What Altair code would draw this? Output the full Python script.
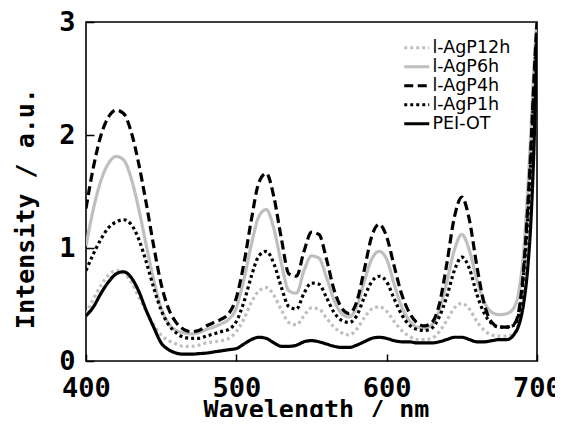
import altair as alt
import pandas as pd

wavelength = [400, 405, 410, 415, 420, 425, 430, 435, 440, 445, 450, 455, 460, 465, 470,
              475, 480, 485, 490, 495, 500, 505, 510, 515, 520, 525, 530, 535, 540, 545,
              550, 555, 560, 565, 570, 575, 580, 585, 590, 595, 600, 605, 610, 615, 620,
              625, 630, 635, 640, 645, 650, 655, 660, 665, 670, 675, 680, 685, 688, 691,
              694, 696, 698, 700]

agp12h = [0.42, 0.55, 0.67, 0.76, 0.80, 0.78, 0.70, 0.57, 0.44, 0.32, 0.23, 0.18, 0.15, 0.13, 0.13,
          0.14, 0.16, 0.17, 0.18, 0.20, 0.26, 0.37, 0.52, 0.62, 0.65, 0.58, 0.45, 0.34, 0.32, 0.40,
          0.47, 0.46, 0.38, 0.30, 0.25, 0.23, 0.28, 0.38, 0.46, 0.48, 0.44, 0.35, 0.27, 0.22, 0.19,
          0.19, 0.20, 0.26, 0.36, 0.47, 0.51, 0.46, 0.35, 0.27, 0.23, 0.22, 0.22, 0.25, 0.35, 0.65,
          1.20, 1.70, 2.30, 2.90]

agp6h = [1.02, 1.35, 1.60, 1.75, 1.81, 1.78, 1.62, 1.35, 1.03, 0.72, 0.47, 0.33, 0.27, 0.25, 0.24,
         0.25, 0.28, 0.30, 0.33, 0.37, 0.47, 0.72, 1.03, 1.28, 1.34, 1.17, 0.86, 0.62, 0.60, 0.80,
         0.93, 0.91, 0.74, 0.54, 0.42, 0.39, 0.48, 0.70, 0.90, 0.97, 0.90, 0.68, 0.48, 0.36, 0.30,
         0.29, 0.32, 0.45, 0.70, 0.98, 1.12, 0.98, 0.72, 0.52, 0.43, 0.41, 0.42, 0.48, 0.62, 0.95,
         1.55, 2.05, 2.60, 3.05]

agp4h = [1.35, 1.72, 2.00, 2.16, 2.22, 2.19, 2.03, 1.75, 1.40, 1.02, 0.68, 0.46, 0.34, 0.28, 0.26,
         0.27, 0.31, 0.34, 0.37, 0.42, 0.56, 0.86, 1.25, 1.58, 1.66, 1.45, 1.08, 0.77, 0.75, 0.97,
         1.14, 1.12, 0.90, 0.63, 0.47, 0.42, 0.52, 0.80, 1.10, 1.21, 1.10, 0.84, 0.59, 0.43, 0.34,
         0.31, 0.34, 0.50, 0.86, 1.27, 1.45, 1.25, 0.84, 0.50, 0.34, 0.30, 0.30, 0.33, 0.45, 0.80,
         1.40, 1.90, 2.50, 3.00]

agp1h = [0.80, 0.95, 1.08, 1.18, 1.23, 1.25, 1.21, 1.08, 0.88, 0.65, 0.45, 0.32, 0.25, 0.21, 0.20,
         0.20, 0.22, 0.24, 0.26, 0.28, 0.35, 0.52, 0.75, 0.93, 0.97, 0.86, 0.65, 0.48, 0.46, 0.60,
         0.69, 0.68, 0.56, 0.43, 0.36, 0.34, 0.40, 0.56, 0.70, 0.75, 0.70, 0.55, 0.41, 0.32, 0.28,
         0.27, 0.29, 0.39, 0.57, 0.80, 0.92, 0.82, 0.59, 0.42, 0.33, 0.30, 0.30, 0.32, 0.42, 0.75,
         1.30, 1.80, 2.40, 2.95]

pei_ot = [0.40, 0.48, 0.60, 0.70, 0.77, 0.79, 0.74, 0.62, 0.45, 0.30, 0.16, 0.10, 0.07, 0.06, 0.06,
          0.065, 0.07, 0.08, 0.09, 0.10, 0.11, 0.15, 0.19, 0.21, 0.20, 0.16, 0.13, 0.13, 0.14, 0.17,
          0.18, 0.17, 0.15, 0.13, 0.12, 0.12, 0.14, 0.17, 0.20, 0.21, 0.20, 0.18, 0.17, 0.17, 0.16,
          0.16, 0.16, 0.17, 0.19, 0.21, 0.21, 0.19, 0.17, 0.17, 0.18, 0.19, 0.19, 0.24, 0.32, 0.50,
          0.85, 1.25, 1.90, 2.90]

series_names = ["l-AgP12h", "l-AgP6h", "l-AgP4h", "l-AgP1h", "PEI-OT"]
series_values = [agp12h, agp6h, agp4h, agp1h, pei_ot]
series_colors = ["#BFBFBF", "#BFBFBF", "#000000", "#000000", "#000000"]
series_dashes = [[3, 3], [1, 0], [9, 4.5], [3, 3], [1, 0]]

rows = []
for name, vals in zip(series_names, series_values):
    for w, v in zip(wavelength, vals):
        rows.append({"wl": w, "I": v, "series": name})
df = pd.DataFrame(rows)

FONT = "DejaVu Sans Mono"

chart = alt.Chart(df).mark_line(
    interpolate="monotone", strokeWidth=3.2, clip=True
).encode(
    x=alt.X("wl:Q",
            scale=alt.Scale(domain=[400, 700], nice=False, zero=False),
            axis=alt.Axis(values=[400, 500, 600, 700], title="Wavelength / nm",
                          offset=-7, tickSize=7, labelPadding=14,
                          titleX=230, titleY=63, titleAlign="center",
                          titleBaseline="alphabetic")),
    y=alt.Y("I:Q",
            scale=alt.Scale(domain=[0, 3], nice=False),
            axis=alt.Axis(values=[0, 1, 2, 3], title="Intensity / a.u.",
                          offset=-8, tickSize=8, labelPadding=11,
                          titleX=-69, titleY=186, titleAlign="center",
                          titleBaseline="middle")),
    color=alt.Color("series:N",
                    scale=alt.Scale(domain=series_names, range=series_colors),
                    sort=series_names, title=None),
    strokeDash=alt.StrokeDash("series:N",
                              scale=alt.Scale(domain=series_names, range=series_dashes),
                              sort=series_names, title=None),
).properties(
    width=451, height=339,
    autosize=alt.AutoSizeParams(type="none"),
    padding={"left": 78, "top": 14, "right": 18, "bottom": 56},
).configure_view(
    stroke="black", strokeWidth=1.6
).configure_axis(
    domain=False, grid=False,
    labelFont=FONT, labelFontWeight="bold", labelFontSize=27, labelColor="black",
    titleFont=FONT, titleFontWeight="bold", titleFontSize=25, titleColor="black",
    tickColor="black", tickWidth=1.5, labelFlush=False, labelOverlap=False,
).configure_legend(
    orient="none", legendX=322, legendY=17, padding=0,
    symbolType="M-2,0H2", symbolSize=156.25, symbolStrokeWidth=3.2,
    labelFont="DejaVu Sans", labelFontSize=17.5, labelColor="black", labelOffset=7,
    rowPadding=0, labelLimit=200,
)

chart.save("out.html", embed_options={"renderer": "svg", "actions": False})
